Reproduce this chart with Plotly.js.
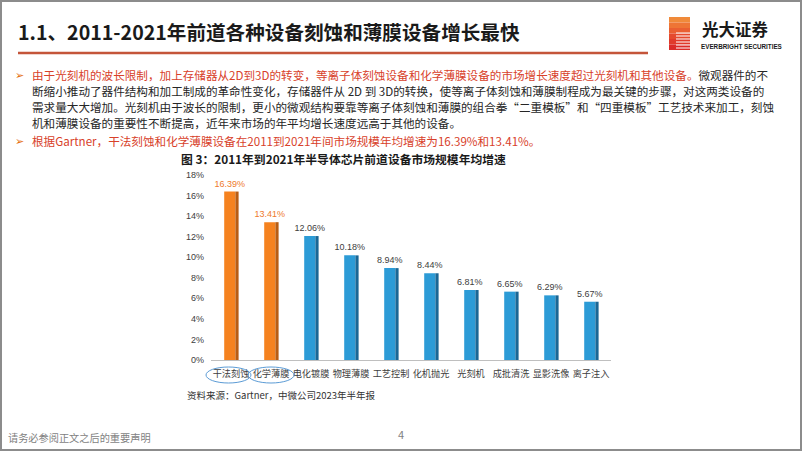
<!DOCTYPE html>
<html>
<head>
<meta charset="utf-8">
<script src="https://cdn.plot.ly/plotly-3.0.1.min.js"></script>
<style>
  html, body { margin: 0; padding: 0; background: #fff; }
  #chart { width: 802px; height: 451px; }
</style>
</head>
<body>
<div id="chart"></div>
<script>
// equipment categories and 2011-2021 CAGR (%)
const categories = ['干法刻蚀', '化学薄膜', '电化镀膜', '物理薄膜', '工艺控制', '化机抛光', '光刻机', '成批清洗', '显影洗像', '离子注入'];
const growth = [16.39, 13.41, 12.06, 10.18, 8.94, 8.44, 6.81, 6.65, 6.29, 5.67];
const highlighted = ['干法刻蚀', '化学薄膜'];
const yTicks = [0, 2, 4, 6, 8, 10, 12, 14, 16, 18];

const W = 802, H = 451;
const M = { l: 211, r: 191, t: 175, b: 91 };
const PW = W - M.l - M.r, PH = H - M.t - M.b;

// pixel -> paper helpers for the slide decorations
const px = x => (x - M.l) / PW;
const py = y => (H - M.b - y) / PH;

const isHi = c => highlighted.includes(c);
const mainColors = categories.map(c => isHi(c) ? '#F5821F' : '#2C9BD6');
const sideColors = categories.map(c => isHi(c) ? '#B85D14' : '#1A6795');
const labelColors = categories.map(c => isHi(c) ? '#EE7B2C' : '#404040');

const front = {
    x: categories,
    y: growth,
    type: 'bar',
    width: 0.28,
    offset: -0.17,
    marker: { color: mainColors },
    text: growth.map(v => v.toFixed(2) + '%'),
    textposition: 'outside',
    constraintext: 'none',
    textfont: { size: 9, color: labelColors, family: 'Liberation Sans, Arial, sans-serif' },
    cliponaxis: false,
    hoverinfo: 'skip'
};

const side = {
    x: categories,
    y: growth,
    type: 'bar',
    width: 0.08,
    offset: 0.11,
    marker: { color: sideColors },
    hoverinfo: 'skip'
};

const CJK = 'Noto Sans CJK SC, sans-serif';
const RED = '#D8412A';
const TXT = '#262626';

function note(x, y, text, size, color, extra) {
    return Object.assign({
        xref: 'paper', yref: 'paper', x: px(x), y: py(y),
        xanchor: 'left', yanchor: 'middle', showarrow: false,
        text: text, font: { family: CJK, size: size, color: color }
    }, extra || {});
}

const paraSize = 11.6;
const bullet = { font: { family: 'DejaVu Sans', size: 11, color: '#E46C0A' } };
const annotations = [
    note(16, 31, '<b>1.1、2011-2021年前道各种设备刻蚀和薄膜设备增长最快</b>', 19.6, '#1a1a1a'),
    note(700, 29, '<b>光大证券</b>', 16.5, '#1a1a1a'),
    note(699, 46.5, '<b>EVERBRIGHT SECURITIES</b>', 6.3, '#1a1a1a', { font: { family: 'Liberation Sans, Arial', size: 6.3, color: '#1a1a1a' } }),
    note(13, 75, '➢', 11, '#E46C0A', bullet),
    note(30, 75, '<span style="color:' + RED + '">由于光刻机的波长限制，加上存储器从2D到3D的转变，等离子体刻蚀设备和化学薄膜设备的市场增长速度超过光刻机和其他设备。</span>微观器件的不', paraSize, TXT),
    note(30, 91, '断缩小推动了器件结构和加工制成的革命性变化，存储器件从 2D 到 3D的转换，使等离子体刻蚀和薄膜制程成为最关键的步骤，对这两类设备的', paraSize, TXT),
    note(30, 107, '需求量大大增加。光刻机由于波长的限制，更小的微观结构要靠等离子体刻蚀和薄膜的组合拳“二重模板”和“四重模板”工艺技术来加工，刻蚀', paraSize, TXT),
    note(30, 123, '机和薄膜设备的重要性不断提高，近年来市场的年平均增长速度远高于其他的设备。', paraSize, TXT),
    note(13, 141, '➢', 11, '#E46C0A', bullet),
    note(30, 141, '根据Gartner，干法刻蚀和化学薄膜设备在2011到2021年间市场规模年均增速为16.39%和13.41%。', paraSize, RED),
    note(179, 158, '<b>图 3：2011年到2021年半导体芯片前道设备市场规模年均增速</b>', 11.8, '#1a1a1a'),
    note(185, 395, '资料来源：Gartner，中微公司2023年半年报', 9.5, '#333333'),
    note(6, 437, '请务必参阅正文之后的重要声明', 10.2, '#7f7f7f'),
    note(396, 434, '4', 11, '#7f7f7f')
];

const shapes = [
    // slide frame
    { type: 'rect', xref: 'paper', yref: 'paper', x0: px(1), x1: px(801), y0: py(1), y1: py(450),
      line: { color: '#8c8c8c', width: 2 } },
    // red rule under the title
    { type: 'line', xref: 'paper', yref: 'paper', x0: px(18), x1: px(648), y0: py(53), y1: py(53),
      line: { color: '#C4553A', width: 2.5 } },
    // circled labels
    { type: 'circle', xref: 'paper', yref: 'paper', x0: px(206), x1: px(251), y0: py(383), y1: py(367),
      line: { color: '#5B9BD5', width: 1 } },
    { type: 'circle', xref: 'paper', yref: 'paper', x0: px(248), x1: px(294), y0: py(383), y1: py(367),
      line: { color: '#5B9BD5', width: 1 } }
];

// logo mark: stacked stripes fading from orange to red
const stripeColors = ['#F08A3A', '#EE7535', '#EA5F31', '#E54A2D', '#E03A2A', '#DA2B28'];
stripeColors.forEach((c, i) => {
    const y0 = 17 + i * 5.5;
    shapes.push({ type: 'rect', xref: 'paper', yref: 'paper', x0: px(669), x1: px(690),
        y0: py(y0), y1: py(y0 + 5.5), line: { width: 0 }, fillcolor: c });
});
[33, 36, 39, 42, 45, 48].forEach(y => {
    shapes.push({ type: 'line', xref: 'paper', yref: 'paper', x0: px(676), x1: px(690),
        y0: py(y), y1: py(y), line: { color: '#ffffff', width: 1 } });
});

const layout = {
    width: W,
    height: H,
    margin: M,
    barmode: 'overlay',
    showlegend: false,
    paper_bgcolor: '#ffffff',
    plot_bgcolor: '#ffffff',
    font: { family: CJK, color: '#404040' },
    xaxis: {
        type: 'category',
        showline: true,
        linecolor: '#bfbfbf',
        linewidth: 1,
        ticks: '',
        tickangle: 0,
        ticklabelstandoff: 5,
        tickfont: { family: CJK, size: 9.2, color: '#404040' },
        showgrid: false,
        fixedrange: true
    },
    yaxis: {
        range: [0, 18],
        tickvals: yTicks,
        ticktext: yTicks.map(v => v + '%'),
        showgrid: false,
        zeroline: false,
        showline: false,
        ticks: '',
        ticklabelstandoff: 6,
        tickfont: { family: 'Liberation Sans, Arial, sans-serif', size: 9, color: '#404040' },
        fixedrange: true
    },
    annotations: annotations,
    shapes: shapes
};

Plotly.newPlot('chart', [front, side], layout, { displayModeBar: false, staticPlot: true });
</script>
</body>
</html>
